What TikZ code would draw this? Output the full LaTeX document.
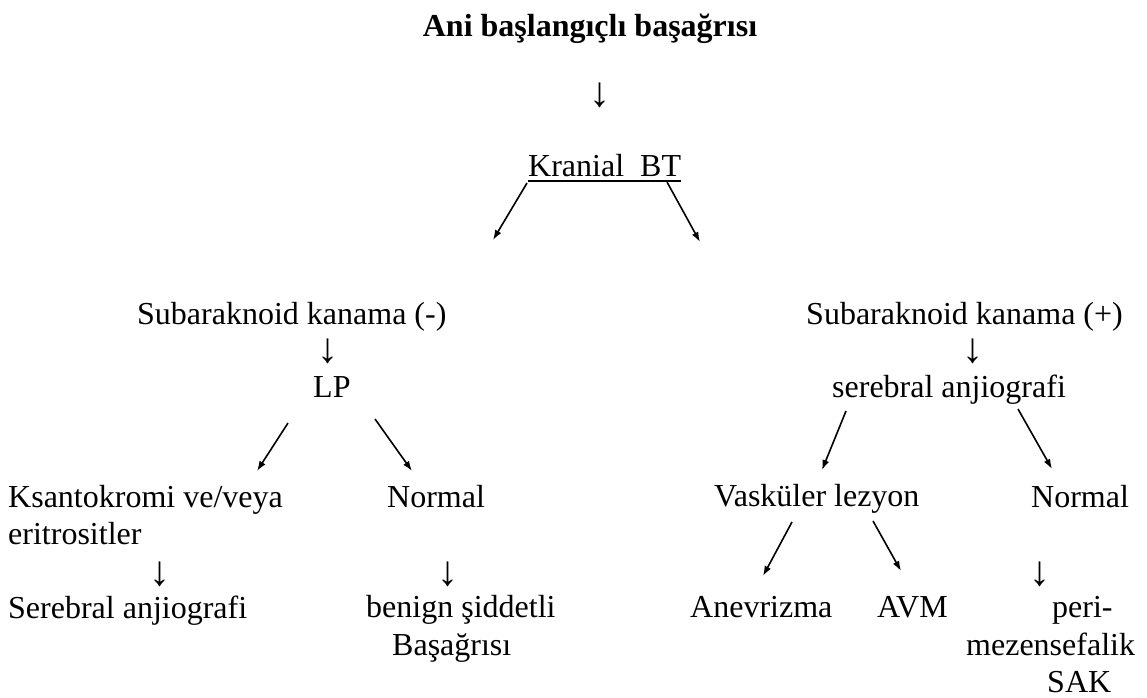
\documentclass[tikz,border=0pt]{standalone}
\usepackage{fontspec}
\setmainfont{Liberation Serif}
\usetikzlibrary{arrows.meta}
\begin{document}
\begin{tikzpicture}[x=1pt,y=-1pt,
  txt/.style={inner sep=0pt,anchor=base west,font=\fontsize{32}{38}\selectfont},
  ttl/.style={inner sep=0pt,anchor=base,font=\fontsize{32}{38}\selectfont\bfseries},
  dwn/.style={inner sep=0pt,anchor=center,font=\fontsize{42}{46}\selectfont},
  arr/.style={line width=1.6pt,-{Latex[length=10pt,width=7pt]}}]
\useasboundingbox[fill=white] (0,0) rectangle (1147,697);
% title
\node[ttl] (title) at (590,36) {Ani başlangıçlı başağrısı};
\node[dwn] (d0) at (600,95) {↓};
\node[txt] (kr) at (528,176) {Kranial~~BT};
\draw[line width=1.4pt] ([yshift=-5pt]kr.base west) -- ([yshift=-5pt]kr.base east);
% left branch
\node[txt] (sub1) at (137,324) {Subaraknoid kanama (-)};
\node[dwn] (d1) at (328,351) {↓};
\node[txt] (lp) at (313,397) {LP};
\node[txt] (ks1) at (8,507) {Ksantokromi ve/veya};
\node[txt] (ks2) at (8,544) {eritrositler};
\node[dwn] (d2) at (160,574) {↓};
\node[txt] (sa) at (8,618) {Serebral anjiografi};
\node[txt] (nl) at (387,507) {Normal};
\node[dwn] (d3) at (448,574) {↓};
\node[txt] (bn1) at (366,617) {benign şiddetli};
\node[txt] (bn2) at (392,655) {Başağrısı};
% right branch
\node[txt] (sub2) at (806,324) {Subaraknoid kanama (+)};
\node[dwn] (d4) at (973,351) {↓};
\node[txt] (ser) at (832,397) {serebral anjiografi};
\node[txt] (vl) at (714,506) {Vasküler lezyon};
\node[txt] (nr) at (1031,507) {Normal};
\node[txt] (an) at (690,617) {Anevrizma};
\node[txt] (avm) at (877,617) {AVM};
\node[dwn] (d5) at (1040,574) {↓};
\node[txt] (p1) at (1052,617) {peri-};
\node[txt] (p2) at (966,655) {mezensefalik};
\node[txt] (p3) at (1047,692) {SAK};
% arrow ends
\coordinate (a1s) at (527,183); \coordinate (a1e) at (493,240);
\coordinate (a2s) at (667,182); \coordinate (a2e) at (700,242);
\coordinate (a3s) at (288,423); \coordinate (a3e) at (257,471);
\coordinate (a4s) at (375,419); \coordinate (a4e) at (412,471);
\coordinate (a5s) at (846,411); \coordinate (a5e) at (822,470);
\coordinate (a6s) at (1018,409); \coordinate (a6e) at (1052,469);
\coordinate (a7s) at (792,522); \coordinate (a7e) at (763,576);
\coordinate (a8s) at (873,521); \coordinate (a8e) at (901,571);
\foreach \i in {1,...,8} \draw[arr] (a\i s) -- (a\i e);
\end{tikzpicture}
\end{document}
